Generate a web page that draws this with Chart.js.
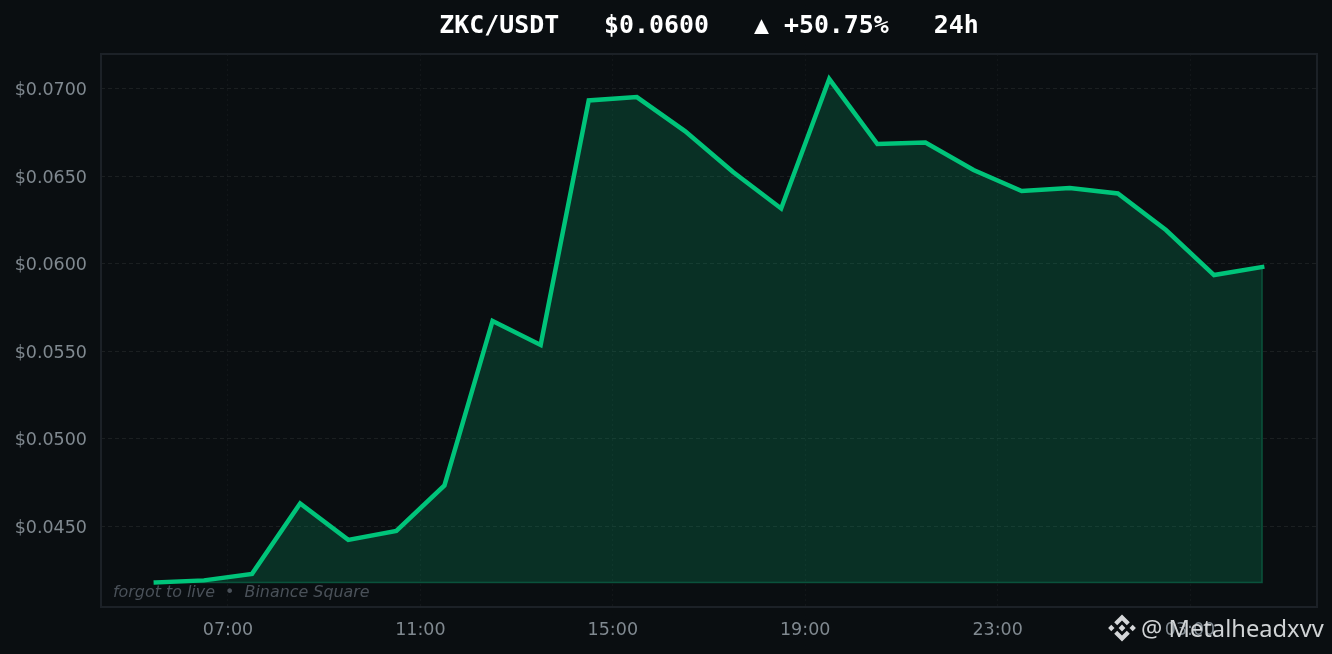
<!DOCTYPE html>
<html>
<head>
<meta charset="utf-8">
<script src="https://cdn.jsdelivr.net/npm/chart.js@4"></script>
<style>
html, body { margin: 0; padding: 0; background: #0a0e11; overflow: hidden; }
#wrap { position: relative; width: 1332px; height: 654px; }
#chart { position: absolute; left: 0; top: 0; }
.title { position: absolute; left: 409px; width: 600px; top: 10px; text-align: center; color: #fff; white-space: pre;
    font: bold 24.9px "DejaVu Sans Mono"; line-height: 29px; }
.note { position: absolute; left: 113px; top: 583px; color: #4a5159; font: italic 15.9px "DejaVu Sans"; line-height: 17px; white-space: pre; }
.mark { position: absolute; left: 1141px; top: 611px; color: #d0d3d5; font: 400 23.7px "Noto Sans"; line-height: 34px; white-space: pre; }
.logo { position: absolute; left: 1108px; top: 614px; width: 28px; height: 28px; }
</style>
</head>
<body>
<div id="wrap">
    <canvas id="chart" width="1332" height="654"></canvas>
    <div class="title">ZKC/USDT   $0.0600   ▲ +50.75%   24h</div>
    <div class="note">forgot to live  •  Binance Square</div>
    <svg class="logo" viewBox="0 0 28 28"><g fill="#d4d6d8">
        <path d="M14 0.5l7.8 7.8-3 3L14 6.500l-4.800 4.800-3-3z"/>
        <path d="M14 27.500l-7.800-7.800 3-3 4.800 4.800 4.800-4.800 3 3z"/>
        <path d="M14 10.600l3.400 3.400-3.400 3.400-3.400-3.400z"/>
        <path d="M3.300 10.800l3.200 3.200-3.200 3.200-3.200-3.200z"/>
        <path d="M24.700 10.800l3.200 3.200-3.200 3.200-3.200-3.200z"/>
    </g></svg>
    <div class="mark">@ Metalheadxvv</div>
</div>
<script>
const hours = [5.5, 6.5, 7.5, 8.5, 9.5, 10.5, 11.5, 12.5, 13.5, 14.5, 15.5, 16.5,
    17.5, 18.5, 19.5, 20.5, 21.5, 22.5, 23.5, 24.5, 25.5, 26.5, 27.5, 28.5];
const prices = [0.04180, 0.04192, 0.04229, 0.04631, 0.04423, 0.04474, 0.04734, 0.05673,
    0.05536, 0.06932, 0.06951, 0.06757, 0.06523, 0.06315, 0.07054, 0.06683,
    0.06692, 0.06535, 0.06415, 0.06432, 0.06401, 0.06192, 0.05935, 0.05981];
const xTicks = [7, 11, 15, 19, 23, 27];
const xLabels = ['07:00', '11:00', '15:00', '19:00', '23:00', '03:00'];
const yTicks = [0.045, 0.05, 0.055, 0.06, 0.065, 0.07];

const low = Math.min(...prices);
const points = hours.map((h, i) => ({ x: h, y: prices[i] }));
const edge = [
    { x: hours[0], y: low },
    { x: hours[hours.length - 1], y: low },
    { x: hours[hours.length - 1], y: prices[prices.length - 1] }
];

const frame = {
    id: 'frame',
    beforeDatasetsDraw(chart) {
        const a = chart.chartArea;
        const ctx = chart.ctx;
        ctx.save();
        ctx.strokeStyle = '#1c2127';
        ctx.lineWidth = 2;
        ctx.strokeRect(a.left, a.top, a.width, a.height);
        ctx.restore();
    }
};

new Chart(document.getElementById('chart').getContext('2d'), {
    type: 'line',
    data: {
        datasets: [
            {
                data: edge,
                borderColor: '#0c4735',
                borderWidth: 1.5,
                pointRadius: 0,
                fill: false,
                order: 2
            },
            {
                data: points,
                borderColor: '#00c47a',
                borderWidth: 4.5,
                borderJoinStyle: 'miter',
                borderCapStyle: 'square',
                backgroundColor: 'rgba(6, 200, 128, 0.185)',
                fill: { value: low },
                pointRadius: 0,
                tension: 0,
                order: 1
            }
        ]
    },
    options: {
        responsive: false,
        animation: false,
        layout: { padding: { top: 54, right: 15, left: 0, bottom: 0 } },
        plugins: { legend: { display: false }, tooltip: { enabled: false } },
        scales: {
            x: {
                type: 'linear',
                min: 4.36,
                max: 29.64,
                afterBuildTicks: s => { s.ticks = xTicks.map(v => ({ value: v })); },
                afterFit: s => { s.height = 47; },
                ticks: {
                    color: '#808990',
                    font: { family: 'DejaVu Sans', size: 17.5 },
                    maxRotation: 0,
                    autoSkip: false,
                    padding: 13,
                    callback: v => xLabels[xTicks.indexOf(v)]
                },
                grid: { color: 'rgba(255, 255, 255, 0.035)', drawTicks: false },
                border: { display: false, dash: [2, 3] }
            },
            y: {
                min: 0.0404,
                max: 0.07197,
                afterBuildTicks: s => { s.ticks = yTicks.map(v => ({ value: v })); },
                afterFit: s => { s.width = 101; },
                ticks: {
                    color: '#808990',
                    font: { family: 'DejaVu Sans', size: 17.5 },
                    padding: 14,
                    labelOffset: 2,
                    callback: v => '$' + v.toFixed(4)
                },
                grid: { color: 'rgba(255, 255, 255, 0.07)', drawTicks: false },
                border: { display: false, dash: [4, 3] }
            }
        }
    },
    plugins: [frame]
});
</script>
</body>
</html>
